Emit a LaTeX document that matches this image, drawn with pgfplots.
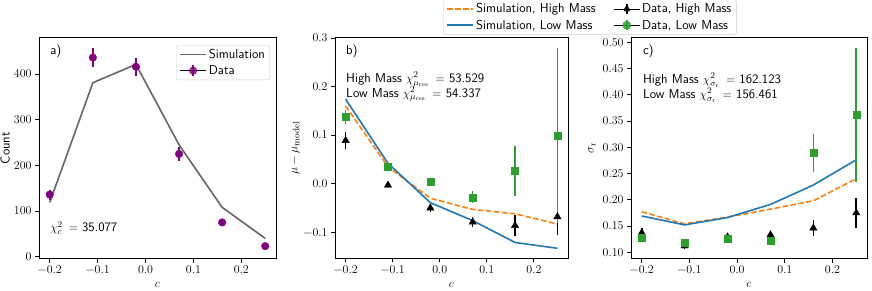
\documentclass[border=0pt]{standalone}
\usepackage{pgfplots}
\pgfplotsset{compat=1.18}
\definecolor{tabblue}{HTML}{1F77B4}
\definecolor{taborange}{HTML}{FF7F0E}
\definecolor{tabgreen}{HTML}{2CA02C}
\definecolor{mplpurple}{HTML}{800080}
\definecolor{simgray}{HTML}{666666}
\definecolor{legframe}{HTML}{CCCCCC}
\newcommand{\txtfont}{\fontsize{13}{15}\selectfont\sffamily}
\newcommand{\tickfont}{\fontsize{12}{14}\selectfont\rmfamily}
\pgfplotsset{
  common/.style={
    scale only axis, height=221bp,
    xmin=-0.2225, xmax=0.2725,
    xtick={-0.2,-0.1,0,0.1,0.2},
    xticklabels={−0.2,−0.1,0.0,0.1,0.2},
    tick align=outside, major tick length=4bp,
    tick style={black, line width=0.8bp},
    axis line style={line width=0.8bp},
    xtick pos=bottom, ytick pos=left,
    tick label style={font=\tickfont},
    label style={font=\fontsize{12.5}{14}\selectfont},
    xlabel={$c$},
    xlabel style={at={(axis description cs:0.5,-0.12)}, anchor=center},
    legend style={draw=legframe, rounded corners=2bp, fill=white, fill opacity=0.8, text opacity=1,
      font=\txtfont, cells={anchor=west}, inner xsep=3bp, inner ysep=2bp, row sep=1.5bp},
  },
  errstyle/.style={only marks, error bars/y dir=both, error bars/y explicit, error bars/error mark=none,
      error bars/error bar style={line width=1.6bp, #1}},
  leghigh/.style={legend image code/.code={\draw[taborange,line width=1.6bp,dash pattern=on 5.5bp off 2.5bp](0bp,0bp)--(26bp,0bp);}},
  leglow/.style={legend image code/.code={\draw[tabblue,line width=1.6bp](0bp,0bp)--(26bp,0bp);}},
  legsim/.style={legend image code/.code={\draw[simgray,line width=1.6bp](0bp,0bp)--(26bp,0bp);}},
  legdhigh/.style={legend image code/.code={\path (0bp,0bp) -- (26bp,0bp); \draw[black,line width=1.6bp](13bp,-5bp)--(13bp,5bp); \path[fill=black] (13bp,0bp) ++(90:4.2bp) -- ++(-120:7.27bp) -- ++(0:7.27bp) -- cycle;}},
  legdlow/.style={legend image code/.code={\path (0bp,0bp) -- (26bp,0bp); \draw[tabgreen,line width=1.6bp](13bp,-5bp)--(13bp,5bp); \fill[tabgreen] (9.5bp,-3.5bp) rectangle (16.5bp,3.5bp);}},
  legdata/.style={legend image code/.code={\path (0bp,0bp) -- (26bp,0bp); \draw[mplpurple,line width=1.6bp](13bp,-5.5bp)--(13bp,5.5bp); \fill[mplpurple] (13bp,0bp) circle (3.8bp);}},
}
\begin{document}
\begin{tikzpicture}
\useasboundingbox (0,0) rectangle (872bp,291bp);
% ---------------- panel a
\begin{axis}[common, at={(39bp,32.5bp)}, anchor=south west, width=237bp,
  ymin=-4, ymax=480, ytick={0,100,200,300,400},
  yticklabels={0,100,200,300,400},
  ylabel={\txtfont Count},
  ylabel style={at={(axis description cs:-0.143,0.5)}, anchor=center},
  legend style={at={(axis description cs:0.975,0.966)}, anchor=north east},
]
\addlegendimage{legsim}\addlegendentry{Simulation}
\addlegendimage{legdata}\addlegendentry{Data}
\addplot[forget plot, simgray, line width=1.6bp] table {
-0.2 119
-0.11 381
-0.02 421
0.07 245
0.16 108
0.25 40
};
\addplot[forget plot, errstyle=mplpurple, mark=*, mark size=3.8bp, mark options={mplpurple, draw=mplpurple, fill=mplpurple}] table[x index=0, y index=1, y error index=2] {
-0.2 136 11
-0.11 436 20
-0.02 416 20
0.07 225 15
0.16 75 8
0.25 23 5
};
\node[anchor=north west, inner sep=0, font=\txtfont] at (axis description cs:0.047,0.97) {a)};
\node[anchor=base west, inner sep=0, font=\txtfont] at (axis description cs:0.047,0.12) {$\chi^2_c\mkern4mu=$ 35.077};
\end{axis}
% ---------------- panel b
\begin{axis}[common, at={(335bp,32.5bp)}, anchor=south west, width=233bp,
  ymin=-0.154, ymax=0.301, ytick={-0.1,0,0.1,0.2,0.3},
  yticklabels={−0.1,0.0,0.1,0.2,0.3},
  ylabel={$\mu-\mu_{\mathrm{model}}$},
  ylabel style={at={(axis description cs:-0.172,0.5)}, anchor=center},
  legend columns=2,
  legend style={at={(axis description cs:0.465,1.172)}, anchor=north west,
    /tikz/every even column/.append style={column sep=16bp}},
]
\addlegendimage{leghigh}\addlegendentry{Simulation, High Mass}
\addlegendimage{legdhigh}\addlegendentry{Data, High Mass}
\addlegendimage{leglow}\addlegendentry{Simulation, Low Mass}
\addlegendimage{legdlow}\addlegendentry{Data, Low Mass}
\addplot[forget plot, taborange, line width=1.6bp, dash pattern=on 5.5bp off 2.5bp] table {
-0.2 0.160
-0.11 0.035
-0.02 -0.030
0.07 -0.053
0.16 -0.062
0.25 -0.083
};
\addplot[forget plot, tabblue, line width=1.6bp] table {
-0.2 0.174
-0.11 0.042
-0.02 -0.039
0.07 -0.076
0.16 -0.121
0.25 -0.133
};
\addplot[forget plot, errstyle=black, mark=triangle*, mark size=4.2bp, mark options={black}] table[x index=0, y index=1, y error index=2] {
-0.2 0.089 0.017
-0.11 -0.003 0.004
-0.02 -0.050 0.008
0.07 -0.079 0.010
0.16 -0.086 0.022
0.25 -0.068 0.037
};
\addplot[forget plot, errstyle=tabgreen, mark=square*, mark size=3.5bp, mark options={tabgreen, draw=tabgreen, fill=tabgreen}] table[x index=0, y index=1, y error index=2] {
-0.2 0.137 0.015
-0.11 0.034 0.006
-0.02 0.004 0.006
0.07 -0.028 0.012
0.16 0.026 0.051
0.25 0.099 0.180
};
\node[anchor=north west, inner sep=0, font=\txtfont] at (axis description cs:0.047,0.97) {b)};
\node[anchor=north west, inner sep=0, align=left, font=\txtfont] at (axis description cs:0.047,0.845)
 {High Mass $\chi^2_{\mu_{\mathrm{res}}}\mkern5mu=$ 53.529\\Low Mass $\chi^2_{\mu_{\mathrm{res}}}\mkern5mu=$ 54.337};
\end{axis}
% ---------------- panel c
\begin{axis}[common, at={(631bp,32.5bp)}, anchor=south west, width=236bp,
  ymin=0.088, ymax=0.509, ytick={0.10,0.15,0.20,0.25,0.30,0.35,0.40,0.45,0.50},
  yticklabels={0.10,0.15,0.20,0.25,0.30,0.35,0.40,0.45,0.50},
  ylabel={$\sigma_{\mathrm{r}}$},
  ylabel style={at={(axis description cs:-0.165,0.5)}, anchor=center},
]
\addplot[taborange, line width=1.6bp, dash pattern=on 5.5bp off 2.5bp] table {
-0.2 0.177
-0.11 0.154
-0.02 0.167
0.07 0.182
0.16 0.198
0.25 0.240
};
\addplot[tabblue, line width=1.6bp] table {
-0.2 0.169
-0.11 0.152
-0.02 0.166
0.07 0.191
0.16 0.228
0.25 0.276
};
\addplot[errstyle=black, mark=triangle*, mark size=4.2bp, mark options={black}] table[x index=0, y index=1, y error index=2] {
-0.2 0.137 0.010
-0.11 0.112 0.005
-0.02 0.129 0.005
0.07 0.133 0.006
0.16 0.146 0.016
0.25 0.175 0.029
};
\addplot[errstyle=tabgreen, mark=square*, mark size=3.5bp, mark options={tabgreen, draw=tabgreen, fill=tabgreen}] table[x index=0, y index=1, y error index=2] {
-0.2 0.127 0.008
-0.11 0.118 0.005
-0.02 0.126 0.004
0.07 0.121 0.007
0.16 0.289 0.036
0.25 0.361 0.128
};
\node[anchor=north west, inner sep=0, font=\txtfont] at (axis description cs:0.05,0.97) {c)};
\node[anchor=north west, inner sep=0, align=left, font=\txtfont] at (axis description cs:0.05,0.84)
 {High Mass $\chi^2_{\sigma_{\mathrm{r}}}\mkern5mu=$ 162.123\\Low Mass $\chi^2_{\sigma_{\mathrm{r}}}\mkern5mu=$ 156.461};
\end{axis}
\end{tikzpicture}
\end{document}
